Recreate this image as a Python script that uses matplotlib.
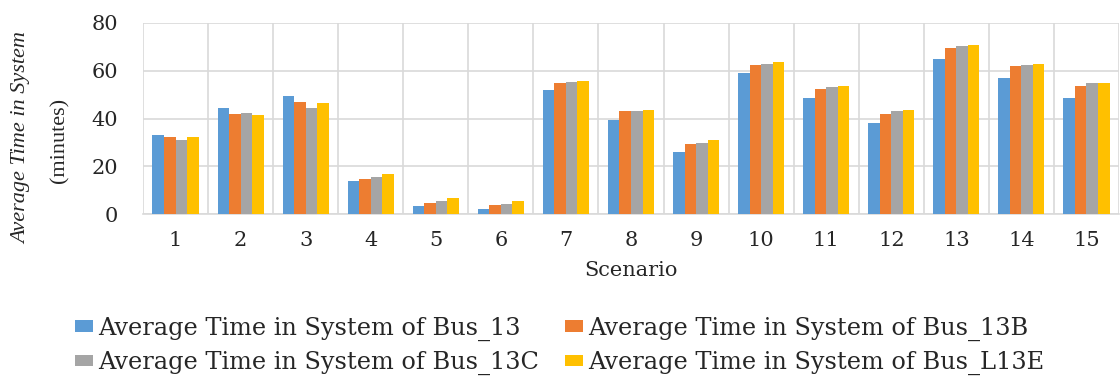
import matplotlib.pyplot as plt
import numpy as np
from matplotlib.patches import Patch

plt.rcParams['font.family'] = ['DejaVu Serif']

# Average time in system (minutes) per scenario
scenarios = [str(i) for i in range(1, 16)]
bus_13 = [33.0, 44.2, 49.5, 13.8, 3.2, 2.1, 51.9, 39.3, 25.9, 59.1, 48.7, 38.1, 65.1, 56.9, 48.7]
bus_13b = [32.1, 41.8, 46.9, 14.8, 4.5, 3.8, 54.7, 43.0, 29.3, 62.5, 52.4, 42.0, 69.6, 61.8, 53.6]
bus_13c = [30.8, 42.4, 44.6, 15.3, 5.4, 4.3, 55.2, 43.0, 29.8, 63.0, 53.0, 43.1, 70.2, 62.3, 54.7]
bus_l13e = [32.1, 41.3, 46.3, 16.6, 6.6, 5.4, 55.8, 43.6, 31.0, 63.6, 53.6, 43.6, 70.7, 63.0, 54.7]

series = [bus_13, bus_13b, bus_13c, bus_l13e]
labels = ["Average Time in System of Bus_13", "Average Time in System of Bus_13B",
          "Average Time in System of Bus_13C", "Average Time in System of Bus_L13E"]
colors = ["#5B9BD5", "#ED7D31", "#A5A5A5", "#FFC000"]

fig = plt.figure(figsize=(11.2, 3.78), dpi=100)
ax = fig.add_axes([143 / 1120, 1 - 214 / 378, (1119 - 143) / 1120, (214 - 23) / 378])

x = np.arange(len(scenarios))
w = 0.177
for i, (vals, col) in enumerate(zip(series, colors)):
    ax.bar(x + (i - 1.5) * w, vals, width=w, color=col, zorder=3)

ax.set_xlim(-0.5, len(scenarios) - 0.5)
ax.set_ylim(0, 80)
ax.set_yticks([0, 20, 40, 60, 80])
ax.set_xticks(x)
ax.set_xticklabels(scenarios)
ax.set_xticks(np.arange(-0.5, len(scenarios)), minor=True)
ax.grid(True, axis='y', color='#d9d9d9', linewidth=1.2, zorder=0)
ax.grid(True, axis='x', which='minor', color='#d9d9d9', linewidth=1.2, zorder=0)
ax.grid(False, axis='x', which='major')
ax.tick_params(axis='both', which='both', length=0, labelsize=15, colors='#262626')
ax.tick_params(axis='y', pad=18)
ax.tick_params(axis='x', pad=12)
for s in ['top', 'left', 'right']:
    ax.spines[s].set_visible(False)
ax.spines['bottom'].set_color('#d9d9d9')
ax.spines['bottom'].set_linewidth(1.2)

ax.set_xlabel("Scenario", fontsize=15, labelpad=8, color='#262626')

# two-line y axis title, first line italic
fig.text(22 / 1120, 1 - 138 / 378, "Average Time in System", rotation=90,
         style='italic', fontsize=16, ha='center', va='center',
         family='Liberation Serif', color='#262626')
fig.text(60 / 1120, 1 - 140 / 378, "(minutes)", rotation=90,
         fontsize=16, ha='center', va='center',
         family='Liberation Serif', color='#262626')

handles = [Patch(facecolor=c, label=l) for c, l in zip(colors, labels)]
order = [0, 2, 1, 3]
leg = fig.legend([handles[i] for i in order], [labels[i] for i in order],
                 loc='upper left', bbox_to_anchor=(65 / 1120, 1 - 307 / 378),
                 ncol=2, frameon=False, fontsize=17.3, handlelength=0.76, handleheight=0.34,
                 handletextpad=0.2, columnspacing=1.1, labelspacing=0.43, borderaxespad=0)
for t in leg.get_texts():
    t.set_color('#262626')

fig.savefig("out.png", dpi=100)
